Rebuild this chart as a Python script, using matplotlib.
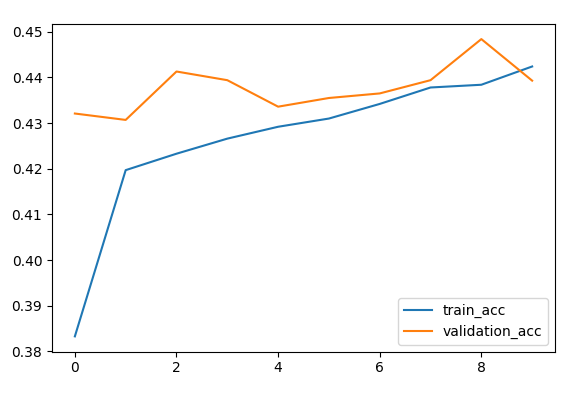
import matplotlib
matplotlib.use("Agg")
import matplotlib.pyplot as plt

epochs = list(range(10))
train_acc = [0.3833, 0.4197, 0.4233, 0.4266, 0.4292, 0.4310, 0.4342, 0.4378, 0.4384, 0.4424]
validation_acc = [0.4321, 0.4307, 0.4413, 0.4394, 0.4336, 0.4355, 0.4365, 0.4394, 0.4484, 0.4393]

fig = plt.figure(figsize=(5.83, 3.95), dpi=100)
ax = fig.add_axes([0.0892, 0.1097, 0.8628, 0.8295])
ax.plot(epochs, train_acc, label="train_acc")
ax.plot(epochs, validation_acc, label="validation_acc")
ax.set_ylim(0.37995, 0.4517)
ax.legend(loc="lower right")
fig.savefig("out.png", dpi=100)
